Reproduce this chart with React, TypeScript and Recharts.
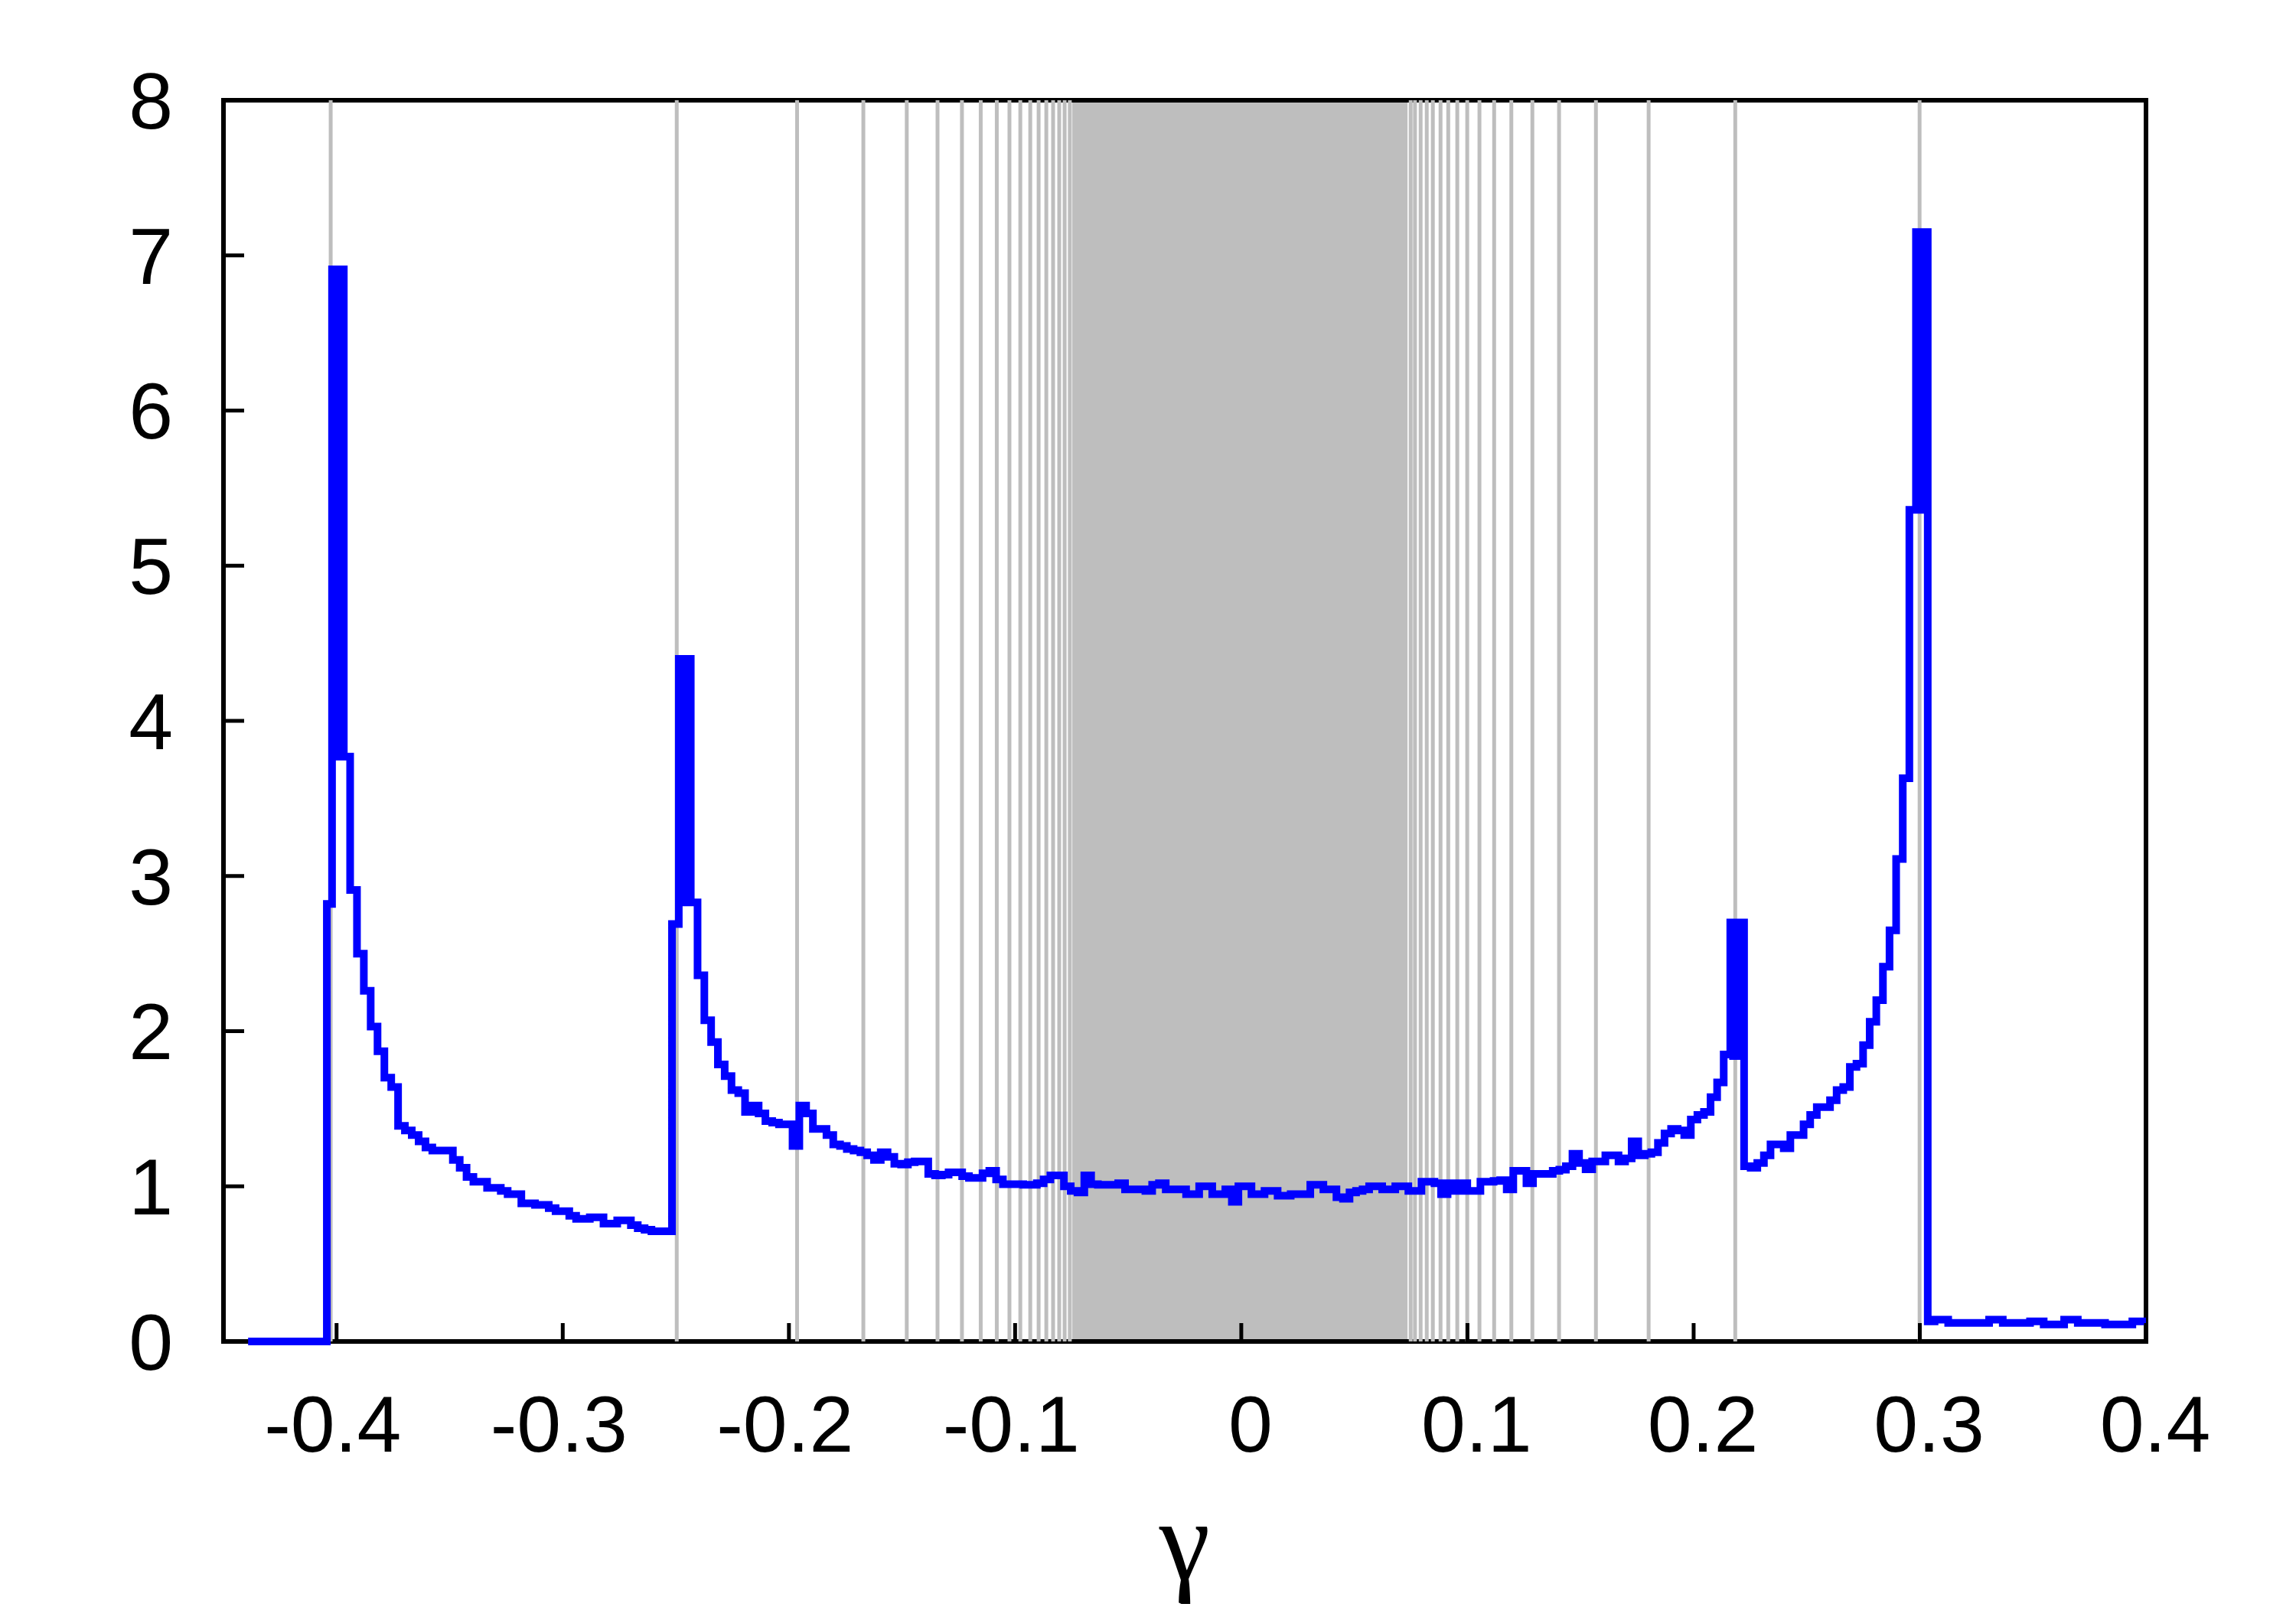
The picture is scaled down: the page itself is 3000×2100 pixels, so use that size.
import React from 'react';
import { LineChart, Line, XAxis, YAxis, ReferenceLine, ReferenceArea } from 'recharts';

// tick labels
const X_TICKS = [-0.4, -0.3, -0.2, -0.1, 0, 0.1, 0.2, 0.3, 0.4];
const Y_TICKS = [0, 1, 2, 3, 4, 5, 6, 7, 8];

// grey marker lines (gamma positions) and the dense band between them
const LEFT_MARKERS = [
  -0.4026, -0.2496, -0.1964, -0.1671, -0.1479, -0.1343, -0.1235, -0.1152, -0.1081,
  -0.1025, -0.0977, -0.0933, -0.0896, -0.0862, -0.0832, -0.0805, -0.0781, -0.0758,
];
const RIGHT_MARKERS = [
  0.0749, 0.0768, 0.0793, 0.082, 0.0847, 0.0881, 0.0915, 0.0955, 0.0999, 0.1053,
  0.1118, 0.1194, 0.1287, 0.1405, 0.1568, 0.1801, 0.2184, 0.2999,
];
const BAND = [-0.0747, 0.0735];

// histogram values, read piece by piece (start, end of each piece + bin heights)
const baseline = [0];
const spike1Lead = [2.82];
const spike1 = [6.91, 3.77, 6.91, 3.77, 6.91];
const spike1Tail = [3.77];
const leftBranch = [
  2.91, 2.5, 2.26, 2.03, 1.87, 1.7, 1.64, 1.39, 1.36, 1.33, 1.29, 1.25, 1.23, 1.23, 1.23, 1.17,
  1.12, 1.06, 1.03, 1.03, 0.99, 0.99, 0.97, 0.95, 0.95, 0.89, 0.89, 0.88, 0.88, 0.86, 0.84, 0.84,
  0.81, 0.79, 0.79, 0.8, 0.8, 0.76, 0.76, 0.78, 0.78, 0.75, 0.73, 0.72, 0.71, 0.71, 0.71,
];
const spike2Lead = [2.69];
const spike2 = [4.4, 2.83, 4.4, 2.83, 4.4];
const midLeft = [
  2.83, 2.36, 2.07, 1.93, 1.785, 1.71, 1.62, 1.6, 1.48, 1.52, 1.47, 1.42, 1.41, 1.4, 1.4, 1.26,
  1.52, 1.47, 1.37, 1.37, 1.33, 1.27, 1.26, 1.24, 1.23, 1.22, 1.2, 1.17, 1.22, 1.19, 1.145, 1.14,
  1.155, 1.16, 1.16, 1.08, 1.07, 1.075, 1.09, 1.09, 1.065, 1.054, 1.054, 1.084, 1.1, 1.045, 1.014,
  1.014, 1.014, 1.01, 1.01, 1.02, 1.045, 1.07, 1.07, 1.0, 0.97, 0.96, 1.07, 1.014, 1.01, 1.01,
  1.01, 1.02, 0.98, 0.98, 0.98, 0.97, 1.01, 1.02, 0.98, 0.98, 0.98,
];
const midCentre = [
  0.95, 0.95, 1.0, 1.0, 0.95, 0.95, 0.98, 0.9, 1.0, 1.0, 0.95, 0.95, 0.97, 0.97, 0.94, 0.94,
  0.95, 0.95, 0.95, 1.01, 1.01, 0.98, 0.98, 0.93, 0.92, 0.96, 0.97, 0.98, 1.0, 1.0, 0.98, 0.98,
  1.0, 1.0, 0.97, 0.97, 1.03, 1.03, 1.02, 0.95, 1.02,
];
const midRight = [
  0.97, 1.02, 0.97, 0.97, 1.03, 1.03, 1.035, 1.04, 0.98, 1.1, 1.1, 1.02, 1.08, 1.08, 1.08, 1.1,
  1.107, 1.13, 1.21, 1.15, 1.11, 1.16, 1.16, 1.2, 1.2, 1.16, 1.18, 1.29, 1.2, 1.21, 1.22, 1.28,
  1.34, 1.37, 1.36, 1.33, 1.43, 1.46, 1.48, 1.575, 1.67, 1.85,
];
const spike3 = [2.7, 1.84, 2.7, 1.84, 2.7];
const rightBranch = [
  1.13, 1.12, 1.15, 1.2, 1.27, 1.27, 1.245, 1.33, 1.33, 1.4, 1.46, 1.51, 1.51, 1.555, 1.62, 1.64,
  1.77, 1.79, 1.91, 2.06, 2.2, 2.415, 2.65, 3.11, 3.63, 5.36,
];
const spike4 = [7.15, 5.36, 7.15, 5.36, 7.15];
const tail = [
  0.13, 0.14, 0.14, 0.12, 0.12, 0.12, 0.12, 0.12, 0.12, 0.14, 0.14, 0.12, 0.12, 0.12, 0.12, 0.13,
  0.13, 0.11, 0.11, 0.11, 0.14, 0.14, 0.12, 0.12, 0.12, 0.12, 0.11, 0.11, 0.11, 0.11, 0.13, 0.13,
];

const pieces: { start: number; end: number; values: number[] }[] = [
  { start: -0.4391, end: -0.4043, values: baseline },
  { start: -0.4043, end: -0.402, values: spike1Lead },
  { start: -0.402, end: -0.3968, values: spike1 },
  { start: -0.3968, end: -0.394, values: spike1Tail },
  { start: -0.394, end: -0.2517, values: leftBranch },
  { start: -0.2517, end: -0.2487, values: spike2Lead },
  { start: -0.2487, end: -0.2434, values: spike2 },
  { start: -0.2434, end: -0.0244, values: midLeft },
  { start: -0.0244, end: 0.0941, values: midCentre },
  { start: 0.0941, end: 0.2162, values: midRight },
  { start: 0.2162, end: 0.2223, values: spike3 },
  { start: 0.2223, end: 0.2983, values: rightBranch },
  { start: 0.2983, end: 0.3035, values: spike4 },
  { start: 0.3035, end: 0.4, values: tail },
];

const data: { x: number; y: number }[] = [];
pieces.forEach((p) => {
  const w = (p.end - p.start) / p.values.length;
  p.values.forEach((v, i) => data.push({ x: p.start + i * w, y: v }));
});
data.push({ x: 0.4, y: tail[tail.length - 1] });

const FONT = '"Liberation Sans", Arial, Helvetica, sans-serif';
const LABEL_SIZE = 104;
const TICK_W = 5;

const BottomTick = (props: any) => {
  const { x, y, payload } = props;
  const v = payload.value as number;
  return (
    <g>
      <line x1={x} y1={y} x2={x} y2={y - 24} stroke="#000" strokeWidth={TICK_W} />
      <text
        x={x + (v < 0 ? -5 : 12)}
        y={y + 70}
        dy="0.71em"
        textAnchor="middle"
        fontFamily={FONT}
        fontSize={LABEL_SIZE}
        fill="#000"
      >
        {String(v)}
      </text>
    </g>
  );
};

const TopTick = (props: any) => {
  const { x, y } = props;
  return <line x1={x} y1={y} x2={x} y2={y + 24} stroke="#000" strokeWidth={TICK_W} />;
};

const LeftTick = (props: any) => {
  const { x, y, payload } = props;
  return (
    <g>
      <line x1={x} y1={y} x2={x + 27} y2={y} stroke="#000" strokeWidth={TICK_W} />
      <text
        x={x - 66}
        y={y}
        dy="0.355em"
        textAnchor="end"
        fontFamily={FONT}
        fontSize={LABEL_SIZE}
        fill="#000"
      >
        {String(payload.value)}
      </text>
    </g>
  );
};

const RightTick = (props: any) => {
  const { x, y } = props;
  return <line x1={x} y1={y} x2={x - 27} y2={y} stroke="#000" strokeWidth={TICK_W} />;
};

export default function App() {
  return (
    <div style={{ position: 'absolute', left: 0, top: 0, width: 3000, height: 2100, background: '#fff' }}>
      <LineChart
        width={3000}
        height={2100}
        data={data}
        margin={{ top: 131, right: 196, bottom: 0, left: 0 }}
      >
        <XAxis
          dataKey="x"
          type="number"
          domain={[-0.45, 0.4]}
          ticks={X_TICKS}
          interval={0}
          height={347}
          axisLine={false}
          tickLine={false}
          tickSize={0}
          tickMargin={0}
          tick={<BottomTick />}
          label={{
            value: 'γ',
            position: 'insideBottom',
            offset: 36,
            fontFamily: '"Liberation Serif", "Times New Roman", serif',
            fontSize: 150,
            fill: '#000',
          }}
        />
        <XAxis
          xAxisId="top"
          orientation="top"
          type="number"
          domain={[-0.45, 0.4]}
          ticks={X_TICKS}
          interval={0}
          height={0}
          axisLine={false}
          tickLine={false}
          tickSize={0}
          tickMargin={0}
          tick={<TopTick />}
        />
        <YAxis
          type="number"
          domain={[0, 8]}
          ticks={Y_TICKS}
          interval={0}
          width={292}
          axisLine={false}
          tickLine={false}
          tickSize={0}
          tickMargin={0}
          tick={<LeftTick />}
        />
        <YAxis
          yAxisId="right"
          orientation="right"
          type="number"
          domain={[0, 8]}
          ticks={Y_TICKS}
          interval={0}
          width={0}
          axisLine={false}
          tickLine={false}
          tickSize={0}
          tickMargin={0}
          tick={<RightTick />}
        />
        <ReferenceArea
          x1={BAND[0]}
          x2={BAND[1]}
          y1={0}
          y2={8}
          fill="#bebebe"
          fillOpacity={1}
          stroke="none"
        />
        {[...LEFT_MARKERS, ...RIGHT_MARKERS].map((m) => (
          <ReferenceLine key={m} x={m} stroke="#bebebe" strokeWidth={5} />
        ))}
        <Line
          dataKey="y"
          type="stepAfter"
          stroke="#0000ff"
          strokeWidth={10}
          dot={false}
          activeDot={false}
          isAnimationActive={false}
        />
        <ReferenceArea
          x1={-0.45}
          x2={0.4}
          y1={0}
          y2={8}
          ifOverflow="visible"
          fill="none"
          fillOpacity={0}
          stroke="#000"
          strokeWidth={6}
        />
      </LineChart>
    </div>
  );
}
